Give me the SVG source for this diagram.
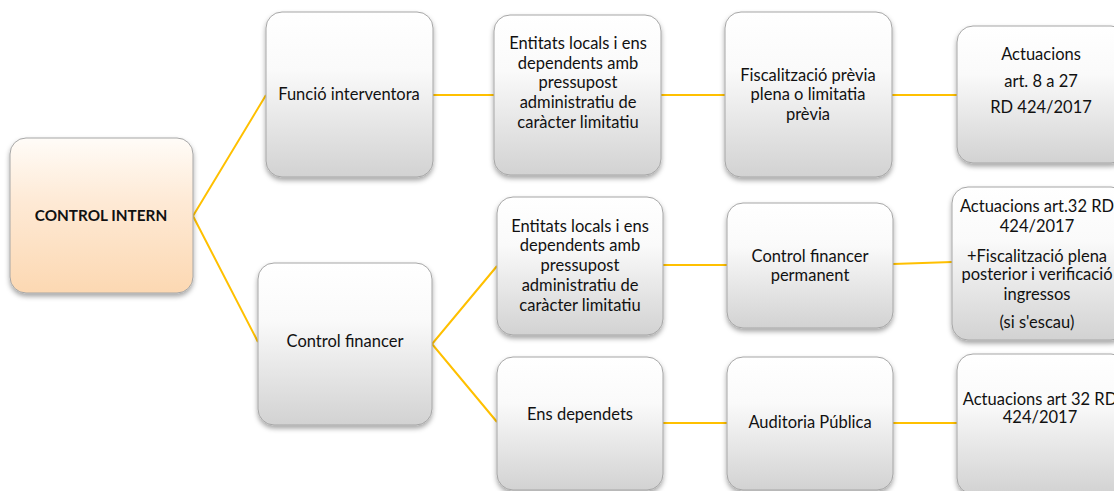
<svg xmlns="http://www.w3.org/2000/svg" width="1114" height="491" viewBox="0 0 1114 491">
<style>
.box{fill:url(#gray);stroke:#a6a6a6;stroke-width:1;filter:url(#sh)}
.root{fill:url(#peach);stroke:#a6a6a6;stroke-width:1;filter:url(#sh)}
.t{font-family:Lato,"Open Sans",sans-serif;font-size:16.5px;fill:#111;text-anchor:middle}
.b{font-weight:bold;font-size:15.3px}
.c{fill:none;stroke:#ffc000;stroke-width:2}
</style>
<defs>
<linearGradient id="gray" x1="0" y1="0" x2="0" y2="1">
<stop offset="0" stop-color="#ffffff"/>
<stop offset="0.35" stop-color="#fafafa"/>
<stop offset="1" stop-color="#d2d2d2"/>
</linearGradient>
<linearGradient id="peach" x1="0" y1="0" x2="0" y2="1">
<stop offset="0" stop-color="#fffcf8"/>
<stop offset="0.4" stop-color="#feead6"/>
<stop offset="1" stop-color="#fcd8b2"/>
</linearGradient>
<filter id="sh" x="-10%" y="-10%" width="130%" height="130%">
<feDropShadow dx="0" dy="3" stdDeviation="2.5" flood-color="#000" flood-opacity="0.35"/>
</filter>
</defs>
<g id="connectors">
<polyline class="c" points="266,95 193,216 258,342"/>
<line class="c" x1="433" y1="95" x2="494" y2="95"/>
<line class="c" x1="661" y1="95" x2="725" y2="95"/>
<line class="c" x1="892" y1="95" x2="957" y2="95"/>
<polyline class="c" points="497,266 432,344 497,422"/>
<line class="c" x1="663" y1="265" x2="727" y2="265"/>
<line class="c" x1="893" y1="264" x2="952" y2="262"/>
<line class="c" x1="663" y1="423" x2="727" y2="423"/>
<line class="c" x1="893" y1="423" x2="957" y2="423"/>
</g>
<g id="control-intern">
<rect class="root" x="10" y="138" width="183" height="155" rx="16"/>
<text class="t b" x="101" y="221">CONTROL INTERN</text>
</g>
<g id="funcio-interventora">
<rect class="box" x="266" y="12" width="167" height="165" rx="16"/>
<text class="t" x="349" y="100">Funció interventora</text>
</g>
<g id="control-financer">
<rect class="box" x="258" y="263" width="174" height="162" rx="16"/>
<text class="t" x="345" y="347">Control financer</text>
</g>
<g id="entitats-1">
<rect class="box" x="494" y="15" width="167" height="160" rx="16"/>
<text class="t" x="578" y="49">Entitats locals i ens</text>
<text class="t" x="578" y="69">dependents amb</text>
<text class="t" x="578" y="88">pressupost</text>
<text class="t" x="578" y="108">administratiu de</text>
<text class="t" x="578" y="128">caràcter limitatiu</text>
</g>
<g id="fiscalitzacio">
<rect class="box" x="725" y="12" width="167" height="165" rx="16"/>
<text class="t" x="808" y="81">Fiscalització prèvia</text>
<text class="t" x="808" y="100">plena o limitatia</text>
<text class="t" x="808" y="120">prèvia</text>
</g>
<g id="actuacions-1">
<rect class="box" x="957" y="26" width="170" height="137" rx="16"/>
<text class="t" x="1041" y="60">Actuacions</text>
<text class="t" x="1041" y="87">art. 8 a 27</text>
<text class="t" x="1041" y="113">RD 424/2017</text>
</g>
<g id="entitats-2">
<rect class="box" x="497" y="197" width="166" height="138" rx="16"/>
<text class="t" x="580" y="232">Entitats locals i ens</text>
<text class="t" x="580" y="251">dependents amb</text>
<text class="t" x="580" y="271">pressupost</text>
<text class="t" x="580" y="291">administratiu de</text>
<text class="t" x="580" y="311">caràcter limitatiu</text>
</g>
<g id="control-financer-permanent">
<rect class="box" x="727" y="203" width="166" height="125" rx="16"/>
<text class="t" x="810" y="262">Control financer</text>
<text class="t" x="810" y="281">permanent</text>
</g>
<g id="actuacions-2">
<rect class="box" x="952" y="187" width="175" height="153" rx="16"/>
<text class="t" x="1037" y="212">Actuacions art.32 RD</text>
<text class="t" x="1037" y="232">424/2017</text>
<text class="t" x="1037" y="262">+Fiscalització plena</text>
<text class="t" x="1037" y="280">posterior i verificació</text>
<text class="t" x="1037" y="300">ingressos</text>
<text class="t" x="1037" y="328">(si s'escau)</text>
</g>
<g id="ens-dependets">
<rect class="box" x="497" y="357" width="166" height="133" rx="16"/>
<text class="t" x="580" y="420">Ens dependets</text>
</g>
<g id="auditoria-publica">
<rect class="box" x="727" y="357" width="166" height="133" rx="16"/>
<text class="t" x="810" y="428">Auditoria Pública</text>
</g>
<g id="actuacions-3">
<rect class="box" x="957" y="354" width="170" height="140" rx="16"/>
<text class="t" x="1040" y="405">Actuacions art 32 RD</text>
<text class="t" x="1040" y="423">424/2017</text>
</g>
</svg>
